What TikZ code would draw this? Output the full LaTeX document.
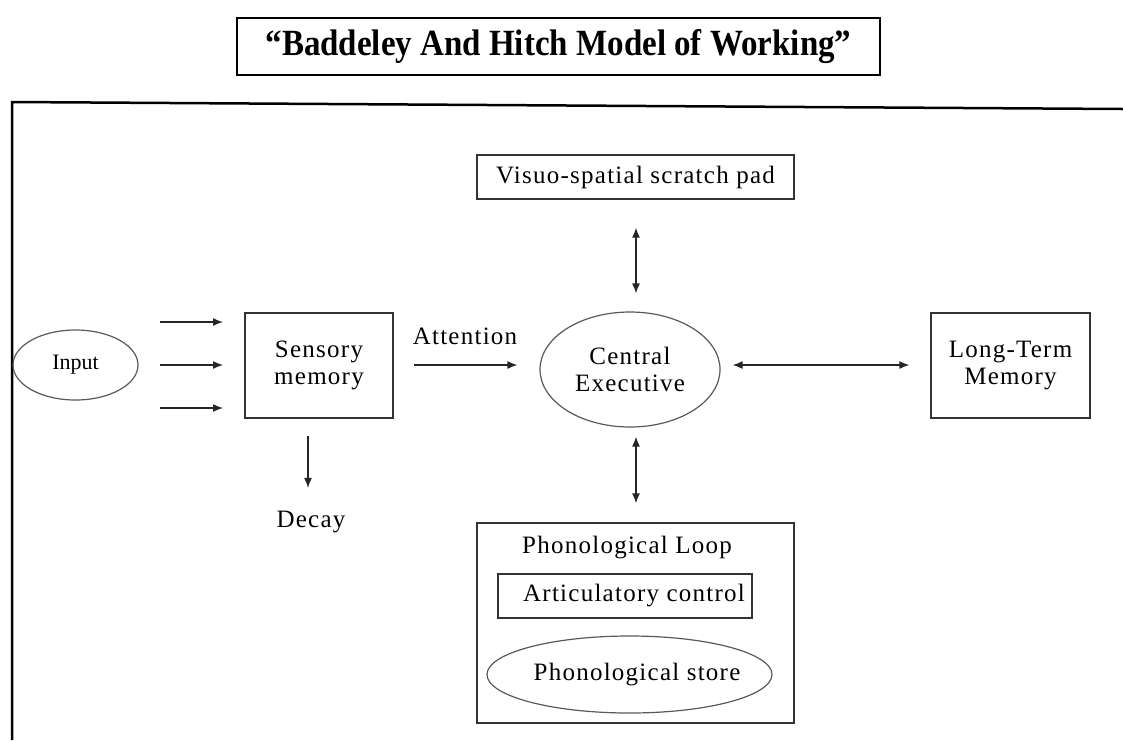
\documentclass[tikz,border=0pt]{standalone}
\usepackage{fontspec}
\setmainfont{Liberation Serif}
\newfontfamily\bodyfont{Liberation Serif}[LetterSpace=5]
\usetikzlibrary{shapes.geometric,arrows.meta}
\begin{document}
\begin{tikzpicture}[x=1pt,y=-1pt,
  txt/.style={font=\bodyfont\fontsize{25}{27}\selectfont, text=black, align=center, inner sep=0pt},
  boxnode/.style={txt, draw=black!80, line width=1.3pt, rectangle},
  ellnode/.style={txt, draw=black!65, line width=1.2pt, ellipse, inner sep=0pt},
  arr/.style={line width=1.3pt, draw=black!85, -{Latex[length=10pt,width=8pt]}},
  darr/.style={line width=1.3pt, draw=black!85, {Latex[length=10pt,width=8pt]}-{Latex[length=10pt,width=8pt]}}
]
\useasboundingbox (0,0) rectangle (1123,740);

% title
\node[draw=black, line width=2.2pt, minimum width=643pt, minimum height=57pt, inner sep=0pt,
      font=\bfseries\fontsize{33}{36}\selectfont] (title) at (558.5,46.5)
      {\scalebox{1}[1.12]{“Baddeley And Hitch Model of Working”}};

% frame
\coordinate (fbl) at (12,740);
\coordinate (ftl) at (12,102);
\coordinate (ftr) at (1123,109);
\draw[line width=2.5pt, line join=miter] (fbl) -- (ftl) -- (ftr);

% nodes
\node[boxnode, minimum width=317pt, minimum height=44pt] (visuo) at (635.5,177) {Visuo-spatial scratch pad};
\node[ellnode, minimum width=180pt, minimum height=115pt] (ce) at (630,369.5) {};
\node[txt] (cetext) at (ce.center) {Central\\Executive};
\node[boxnode, minimum width=148pt, minimum height=105pt] (sens) at (319,365.5) {Sensory\\memory};
\node[ellnode, minimum width=125pt, minimum height=70pt] (input) at (75.5,365) {};
\node[txt, font=\fontsize{22}{24}\selectfont] (inputtext) at (input.center) {Input};
\node[boxnode, minimum width=159pt, minimum height=105pt] (ltm) at (1010.5,365.5) {Long-Term\\Memory};
\node[boxnode, minimum width=317pt, minimum height=200pt] (pl) at (635.5,623) {};
\node[txt] (pltext) at (627,548) {Phonological Loop};
\node[boxnode, minimum width=254pt, minimum height=44pt] (ac) at (625,596) {};
\node[txt] (actext) at (634,596) {Articulatory control};
\node[ellnode, minimum width=285pt, minimum height=77pt] (ps) at (629.5,674.5) {};
\node[txt] (pstext) at (637,674.5) {Phonological store};
\node[txt] (decay) at (311,522) {Decay};
\node[txt] (att) at (465,336) {Attention};

% input arrows
\coordinate (i1s) at (160,322); \coordinate (i1e) at (223,322);
\coordinate (i2s) at (160,365); \coordinate (i2e) at (223,365);
\coordinate (i3s) at (160,408); \coordinate (i3e) at (223,408);
\draw[arr] (i1s) -- (i1e);
\draw[arr] (i2s) -- (i2e);
\draw[arr] (i3s) -- (i3e);

% attention arrow
\draw[arr, shorten <=20pt, shorten >=22pt] (sens.east |- 0,365) -- (ce.west |- 0,365);
% CE <-> LTM
\draw[darr, shorten <=12pt, shorten >=21pt] (ce.east |- 0,365) -- (ltm.west |- 0,365);
% visuo <-> CE
\draw[darr, shorten <=28pt, shorten >=18pt] (visuo.south -| 636,0) -- (ce.north -| 636,0);
% CE <-> PL
\draw[darr, shorten <=9pt, shorten >=19pt] (ce.south -| 636,0) -- (pl.north -| 636,0);
% decay
\draw[arr, shorten <=17pt, shorten >=23pt] (sens.south -| 308,0) -- (decay.north -| 308,0);
\end{tikzpicture}
\end{document}
